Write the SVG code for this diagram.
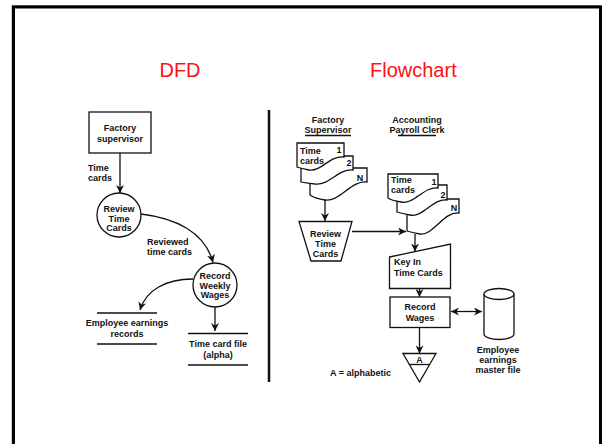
<svg xmlns="http://www.w3.org/2000/svg" width="602" height="444" viewBox="0 0 602 444">
<defs>
<style>
.t{font-family:"Liberation Sans",Arial,sans-serif;font-size:9px;font-weight:bold;fill:#111}
.m{text-anchor:middle}
.ttl{font-family:"Liberation Sans",Arial,sans-serif;font-size:20px;fill:#ff1010}
.s{fill:#fff;stroke:#111;stroke-width:1.3}
.ln{fill:none;stroke:#111;stroke-width:1.3}
.c{fill:none;stroke:#111;stroke-width:1.3}
</style>
<marker id="ah" viewBox="0 0 10 10" refX="10" refY="5" markerWidth="8" markerHeight="8" markerUnits="userSpaceOnUse" orient="auto-start-reverse">
<path d="M0,0 L10,5 L0,10 L3,5 Z" fill="#111"/>
</marker>
</defs>
<rect width="602" height="444" fill="#fff"/>
<g id="frame">
<path d="M12,450 V5.5 H601" fill="none" stroke="#999" stroke-width="1"/>
<path d="M13.5,450 V7 H600.5 V450" fill="none" stroke="#000" stroke-width="3"/>
</g>
<g id="titles">
<text class="ttl" x="180" y="77" text-anchor="middle">DFD</text>
<text class="ttl" x="370" y="77">Flowchart</text>
</g>
<line id="divider" x1="269" y1="110" x2="269" y2="382" stroke="#111" stroke-width="2.5"/>

<g id="dfd-factory-supervisor">
<rect class="s" x="89" y="112" width="62" height="41"/>
<text class="t m" x="120" y="131">Factory</text>
<text class="t m" x="120" y="142">supervisor</text>
</g>
<g id="dfd-review-time-cards">
<circle class="s" cx="119" cy="215" r="22"/>
<text class="t m" x="119" y="212">Review</text>
<text class="t m" x="119" y="221.5">Time</text>
<text class="t m" x="119" y="231">Cards</text>
</g>
<g id="dfd-record-weekly-wages">
<circle class="s" cx="215" cy="285" r="22"/>
<text class="t m" x="215" y="279">Record</text>
<text class="t m" x="215" y="288.5">Weekly</text>
<text class="t m" x="215" y="298">Wages</text>
</g>
<g id="dfd-employee-earnings-records">
<line class="ln" x1="97" y1="313" x2="157" y2="313"/>
<line class="ln" x1="97" y1="344" x2="157" y2="344"/>
<text class="t m" x="127" y="326">Employee earnings</text>
<text class="t m" x="127" y="337">records</text>
</g>
<g id="dfd-time-card-file">
<line class="ln" x1="188" y1="333.5" x2="248" y2="333.5"/>
<line class="ln" x1="188" y1="365" x2="248" y2="365"/>
<text class="t m" x="218" y="347">Time card file</text>
<text class="t m" x="218" y="357.5">(alpha)</text>
</g>
<g id="dfd-labels">
<text class="t" x="88" y="171">Time</text>
<text class="t" x="88" y="181">cards</text>
<text class="t" x="147" y="245">Reviewed</text>
<text class="t" x="147" y="255">time cards</text>
</g>

<g id="fc-headers">
<text class="t m" x="328" y="123">Factory</text>
<text class="t m" x="328" y="133">Supervisor</text>
<line class="ln" x1="305" y1="135.5" x2="351" y2="135.5" stroke-width="1"/>
<text class="t m" x="417" y="123">Accounting</text>
<text class="t m" x="417" y="133">Payroll Clerk</text>
<line class="ln" x1="398" y1="135.5" x2="436" y2="135.5" stroke-width="1"/>
</g>
<g id="fc-time-cards-supervisor">
<path class="s" d="M310,168 H367 V182 C351,180 340,202 325,200 C318,199 313,197 310,195 Z"/>
<path class="s" d="M301,156 H353 V170 C339,168 329,186 315,184 C309,183 304,183 301,182 Z"/>
<path class="s" d="M297,143 H344 V157 C330,155 321,172 309,170 C304,169 300,168 297,167 Z"/>
<text class="t" x="300" y="154">Time</text>
<text class="t" x="300" y="164">cards</text>
<text class="t m" x="339" y="153">1</text>
<text class="t m" x="349" y="166">2</text>
<text class="t m" x="360" y="181">N</text>
</g>
<g id="fc-review-time-cards">
<path class="s" d="M299,221.5 H352 L341,261 H311 Z"/>
<text class="t m" x="325.5" y="236.5">Review</text>
<text class="t m" x="325.5" y="246.5">Time</text>
<text class="t m" x="325.5" y="256.5">Cards</text>
</g>
<g id="fc-time-cards-clerk">
<path class="s" d="M407,199 H459 V213 C444,211 433,236 420,234 C414,233 410,232 407,231 Z"/>
<path class="s" d="M397,185 H447 V200 C433,198 423,218 410,215 C404,214 400,213 397,212 Z"/>
<path class="s" d="M388,174 H438 V188 C424,186 414,205 401,202 C395,201 391,200 388,198 Z"/>
<text class="t" x="391" y="183">Time</text>
<text class="t" x="391" y="193">cards</text>
<text class="t m" x="434" y="185">1</text>
<text class="t m" x="443" y="198">2</text>
<text class="t m" x="454" y="211">N</text>
</g>
<g id="fc-key-in">
<path class="s" d="M389.5,257 L450.5,244 V288.5 H389.5 Z"/>
<text class="t" x="394" y="265">Key In</text>
<text class="t" x="394" y="276">Time Cards</text>
</g>
<g id="fc-record-wages">
<rect class="s" x="390" y="297" width="60" height="30.5"/>
<text class="t m" x="420" y="310">Record</text>
<text class="t m" x="420" y="320.5">Wages</text>
</g>
<g id="fc-master-file">
<path class="s" d="M484,294 V334 A15,5.5 0 0 0 514,334 V294"/>
<ellipse class="s" cx="499" cy="294" rx="15" ry="5.5"/>
<text class="t m" x="498" y="353">Employee</text>
<text class="t m" x="498" y="363">earnings</text>
<text class="t m" x="498" y="373">master file</text>
</g>
<g id="fc-offline-file">
<path class="s" d="M403,353.5 H436 L419.5,382 Z"/>
<line class="ln" x1="409.5" y1="364.5" x2="429.5" y2="364.5"/>
<text class="t m" x="419.5" y="363">A</text>
</g>
<text class="t" x="330" y="376">A = alphabetic</text>

<g id="connectors">
<line class="c" x1="120" y1="153" x2="120" y2="193" marker-end="url(#ah)"/>
<path class="c" d="M141,214 C175,218 205,232 213,262.5" marker-end="url(#ah)"/>
<path class="c" d="M193,279 C166,279 146,290 140,310" marker-end="url(#ah)"/>
<line class="c" x1="215" y1="307" x2="215" y2="331" marker-end="url(#ah)"/>
<line class="c" x1="325" y1="200" x2="325" y2="221" marker-end="url(#ah)"/>
<line class="c" x1="352" y1="231.5" x2="406" y2="231.5" marker-end="url(#ah)"/>
<line class="c" x1="415" y1="234" x2="415" y2="251.5" marker-end="url(#ah)"/>
<line class="c" x1="419.5" y1="288.5" x2="419.5" y2="297" marker-end="url(#ah)"/>
<line class="c" x1="451" y1="311.5" x2="482" y2="311.5" marker-start="url(#ah)" marker-end="url(#ah)"/>
<line class="c" x1="419.5" y1="327.5" x2="419.5" y2="353.5" marker-end="url(#ah)"/>
</g>
</svg>
